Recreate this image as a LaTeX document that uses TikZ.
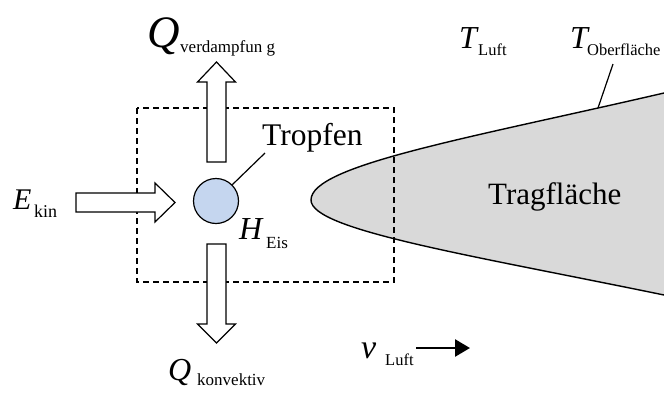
\documentclass[tikz,border=0pt]{standalone}
\usepackage{fontspec}
\setmainfont{Liberation Serif}
\usetikzlibrary{arrows.meta}
\definecolor{dropblue}{RGB}{197,214,239}
\definecolor{wing}{RGB}{217,217,217}
\begin{document}
\begin{tikzpicture}[x=1pt,y=-1pt,
  lbl/.style={inner sep=0pt, anchor=base west},
  bigsym/.style={lbl,font=\fontsize{32}{32}\selectfont\itshape},
  subtxt/.style={lbl,font=\fontsize{17}{17}\selectfont},
  plaintxt/.style={lbl,font=\fontsize{31.5}{31.5}\selectfont},
  blockarrow/.style={draw=black, fill=white, line width=1.2pt, line join=miter},
  boxline/.style={draw=black, line width=1.2pt, dash pattern=on 6pt off 4pt},
  leader/.style={draw=black, line width=1.2pt},
  wingfill/.style={fill=wing},
  wingline/.style={draw=black, line width=1.4pt}]
\useasboundingbox (0,0) rectangle (664,394);

% airfoil
\fill[wingfill] (664,93) .. controls (470,138) and (311,165) .. (311,200)
  .. controls (311,230) and (470,255) .. (664,295) -- (670,295) -- (670,93) -- cycle;
\draw[wingline] (664,93) .. controls (470,138) and (311,165) .. (311,200)
  .. controls (311,230) and (470,255) .. (664,295);

% dashed control volume
\draw[boxline] (137,108) rectangle (394,282);

% block arrows
\draw[blockarrow] (207,162) -- (207,82) -- (197.5,82) -- (216.5,62) -- (235.5,82)
  -- (226,82) -- (226,162) -- cycle;
\draw[blockarrow] (207,244) -- (207,324) -- (197.5,324) -- (216.5,343) -- (235.5,324)
  -- (226,324) -- (226,244) -- cycle;
\draw[blockarrow] (76,193) -- (155,193) -- (155,183) -- (175,202.5) -- (155,222)
  -- (155,212) -- (76,212) -- cycle;

% droplet
\node[circle, draw=black, fill=dropblue, minimum size=45pt, inner sep=0pt,
  line width=1.2pt] (drop) at (216,201) {};

% labels
\node[plaintxt] (tropfen) at (262,145) {Tropfen};
\coordinate (tropfenend) at (265,153);
\draw[leader] (drop.45) -- (tropfenend);

\node[lbl,font=\fontsize{31}{31}\selectfont] (trag) at (488,204) {Tragfläche};

\node[lbl,font=\fontsize{45}{45}\selectfont\itshape] (qv) at (147,47) {Q};
\node[subtxt] (qvs) at (180,52) {verdampfun g};

\node[lbl,font=\fontsize{32}{32}\selectfont\itshape] (qk) at (168,380) {Q};
\node[subtxt] (qks) at (197,385) {konvektiv};

\node[lbl,font=\fontsize{30}{30}\selectfont\itshape] (ek) at (13,209) {E};
\node[lbl,font=\fontsize{18}{18}\selectfont] (eks) at (34,217) {kin};

\node[lbl,font=\fontsize{32}{32}\selectfont\itshape] (he) at (239,239) {H};
\node[subtxt] (hes) at (266,248) {Eis};

\node[bigsym] (tl) at (459,48) {T};
\node[lbl,font=\fontsize{16.5}{16.5}\selectfont] (tls) at (478,55) {Luft};

\node[bigsym] (to) at (570,48) {T};
\node[lbl,font=\fontsize{16.5}{16.5}\selectfont] (tos) at (587,55) {Oberfläche};
\coordinate (tostart) at (613,64);
\coordinate (toend) at (598,108);
\draw[leader] (tostart) -- (toend);

\node[lbl,font=\fontsize{34}{34}\selectfont\itshape] (vl) at (361,358) {v};
\node[lbl,font=\fontsize{16.5}{16.5}\selectfont] (vls) at (385,365) {Luft};
\coordinate (vstart) at (416,348);
\coordinate (vend) at (470,348);
\draw[line width=2.6pt, -{Triangle[length=15pt,width=17pt]}] (vstart) -- (vend);
\end{tikzpicture}
\end{document}
